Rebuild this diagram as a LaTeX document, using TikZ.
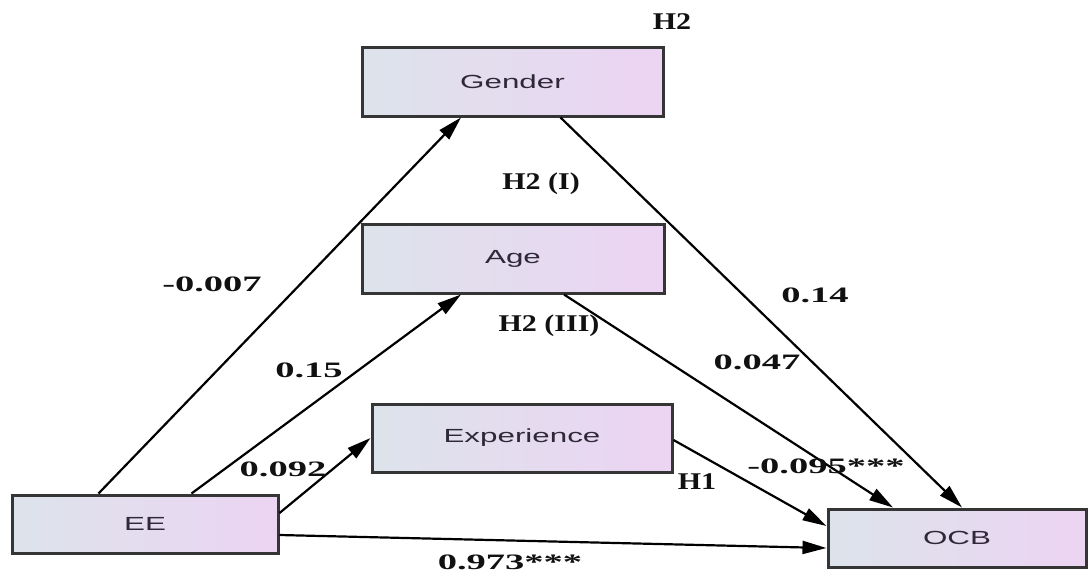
\documentclass[tikz,border=0pt]{standalone}
\usepackage{graphicx}
\usepackage{fontspec}
\setmainfont{Liberation Serif}
\newfontfamily\boxfont{Liberation Sans}
\usetikzlibrary{arrows.meta}
\definecolor{boxl}{HTML}{DDE3EB}
\definecolor{boxr}{HTML}{ECD4F3}
\definecolor{boxtext}{HTML}{2E2838}
\definecolor{edgecol}{HTML}{353535}
\definecolor{labtext}{HTML}{111111}
\newcommand\bxstretch[1]{\scalebox{1.65}[1]{#1}}
\newcommand\numstretch[1]{\scalebox{1.75}[1]{#1}}
\newcommand\hypstretch[1]{\scalebox{1.25}[1]{#1}}
\begin{document}
\begin{tikzpicture}[x=1pt,y=-1pt,
  varbox/.style={draw=edgecol, line width=3pt, left color=boxl, right color=boxr,
    inner sep=0pt, text=boxtext, font=\boxfont\fontsize{19}{19}\selectfont},
  numlab/.style={font=\bfseries\fontsize{22}{22}\selectfont, text=labtext, inner sep=0pt},
  hyplab/.style={font=\bfseries\fontsize{24}{24}\selectfont, text=labtext, inner sep=0pt},
  conn/.style={-{Triangle[length=24pt,width=13pt]}, line width=2.2pt, black}]
\useasboundingbox (0,0) rectangle (1089,576);
\fill[white] (0,0) rectangle (1089,576);

\node[varbox, minimum width=301pt, minimum height=69pt] (gender) at (512.5,81.5) {\bxstretch{Gender}};
\node[varbox, minimum width=302pt, minimum height=69pt] (age) at (513,258.5) {\bxstretch{Age}};
\node[varbox, minimum width=300pt, minimum height=68pt] (exp) at (522,438) {\bxstretch{Experience}};
\node[varbox, minimum width=266pt, minimum height=58pt] (ee) at (145,524) {\bxstretch{EE}};
\node[varbox, minimum width=258pt, minimum height=58pt] (ocb) at (957,538) {\bxstretch{OCB}};

\draw[conn] ([xshift=88pt]ee.north west) -- ([xshift=-51.5pt]gender.south);
\draw[conn] ([xshift=181pt]ee.north west) -- ([xshift=-52pt]age.south);
\draw[conn] ([yshift=11pt]ee.east) -- (exp.west);
\draw[conn] ([yshift=-11pt]ee.east) -- ([yshift=-10pt]ocb.west);
\draw[conn] ([xshift=48pt]gender.south) -- ([xshift=5pt]ocb.north);
\draw[conn] ([xshift=51pt]age.south) -- ([xshift=-64pt]ocb.north);
\draw[conn] ([yshift=-2pt]exp.east) -- ([yshift=12pt]ocb.west);

\node[hyplab] (h2) at (672,22) {\hypstretch{H2}};
\node[hyplab] (h2i) at (541,184) {\hypstretch{H2 (I)}};
\node[hyplab] (h2iii) at (549,326) {\hypstretch{H2 (III)}};
\node[hyplab] (h1) at (697,482) {\hypstretch{H1}};

\node[numlab] (l1) at (212,284) {\numstretch{-0.007}};
\node[numlab] (l2) at (309,370) {\numstretch{0.15}};
\node[numlab] (l3) at (283,469) {\numstretch{0.092}};
\node[numlab] (l4) at (815,295) {\numstretch{0.14}};
\node[numlab] (l5) at (757,362) {\numstretch{0.047}};
\node[numlab] (l6) at (826,466) {\numstretch{-0.095***}};
\node[numlab] (l7) at (510,562) {\numstretch{0.973***}};
\end{tikzpicture}
\end{document}
